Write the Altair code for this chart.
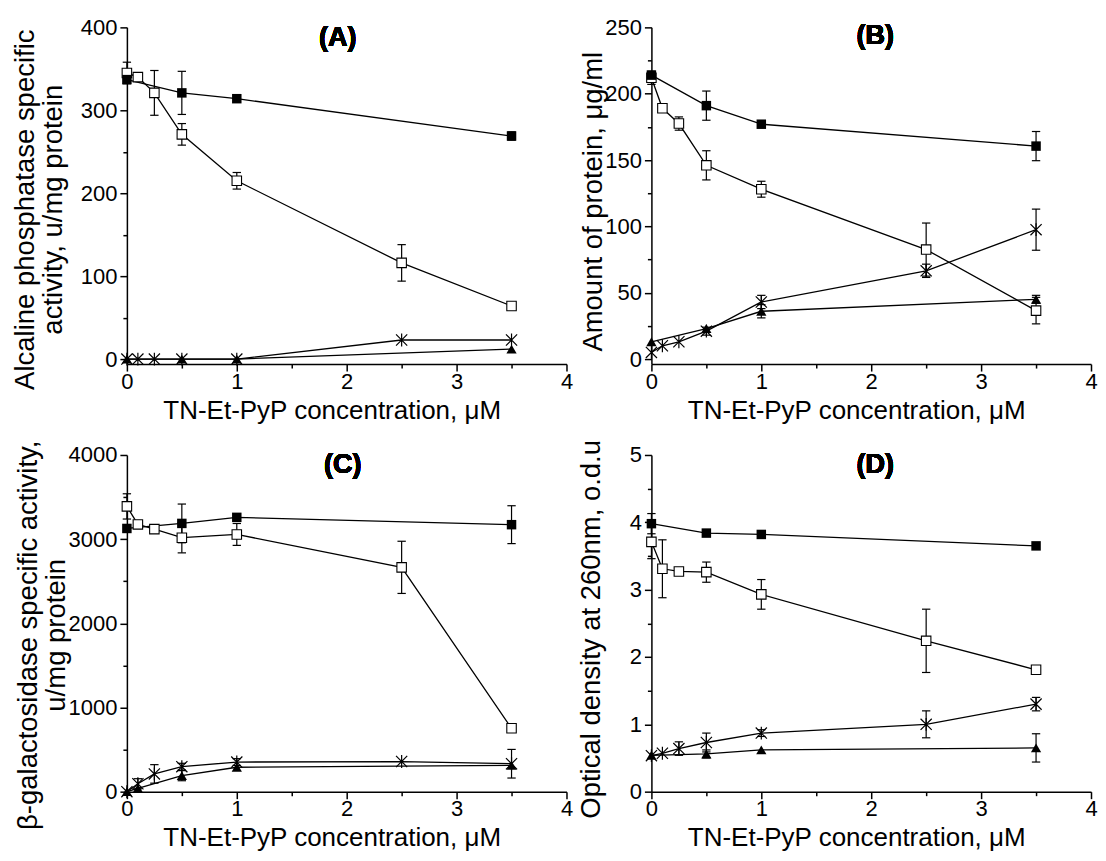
import altair as alt
import pandas as pd

FONT = "Liberation Sans"

x_all = [0, 0.1, 0.25, 0.5, 1, 2.5, 3.5]
x_sub = [0, 0.5, 1, 3.5]
x_sub_c = [0, 0.1, 0.5, 1, 3.5]

# (A) Alkaline phosphatase
a_filled = [337, 321, 314, 269]
a_filled_err = [0, 26, 0, 5]
a_open = [345, 340, 321, 271, 215, 116, 64]
a_open_err = [13, 0, 27, 13, 10, 22, 0]
a_star = [0, 0, 0, 0, 0, 23, 23]
a_star_err = [0, 0, 0, 0, 0, 0, 0]
a_tri = [0, 0, 0, 12]
a_tri_err = [0, 0, 0, 0]

# (B) Amount of protein
b_filled = [214, 191, 177, 160.5]
b_filled_err = [0, 11, 0, 11]
b_open = [212, 189, 177.5, 146, 128, 82.5, 36.5]
b_open_err = [5, 0, 5, 11, 6, 20, 10]
b_star = [5, 10, 13, 21, 43, 66.5, 97.5]
b_star_err = [0, 0, 0, 3, 5, 5, 15.5]
b_tri = [13, 23, 36, 45]
b_tri_err = [0, 0, 5, 3]

# (C) beta-galactosidase
c_filled = [3127, 3187, 3259, 3172]
c_filled_err = [0, 230, 0, 225]
c_open = [3389, 3175, 3119, 3017, 3056, 2665, 753]
c_open_err = [150, 0, 0, 180, 130, 310, 0]
c_star = [0, 94, 211, 297, 352, 358, 332]
c_star_err = [0, 60, 110, 40, 40, 0, 170]
c_tri = [0, 40, 190, 290, 312]
c_tri_err = [0, 0, 60, 0, 0]

# (D) Optical density
d_filled = [3.98, 3.84, 3.82, 3.65]
d_filled_err = [0.15, 0, 0, 0]
d_open = [3.71, 3.31, 3.27, 3.26, 2.93, 2.24, 1.81]
d_open_err = [0.25, 0.43, 0.05, 0.15, 0.22, 0.47, 0]
d_star = [0.535, 0.57, 0.64, 0.73, 0.87, 1.0, 1.30]
d_star_err = [0, 0, 0.1, 0.14, 0.05, 0.2, 0.1]
d_tri = [0.54, 0.56, 0.62, 0.65]
d_tri_err = [0, 0.06, 0, 0.21]

x_title = "TN-Et-PyP concentration, \u03bcM"
x_major = [0, 1, 2, 3, 4]
x_minor = [0.5, 1.5, 2.5, 3.5]

W, H = 440, 337
STAR = "M-1,-1L1,1M-1,1L1,-1M0,-1.15L0,1.15"
CAP = "M-1,0L1,0"


def frame(xs, ys, errs, name):
    return pd.DataFrame({
        "x": xs, "y": ys, "e": errs, "s": name,
        "lo": [v - e for v, e in zip(ys, errs)],
        "hi": [v + e for v, e in zip(ys, errs)],
    })


def panel(series, domain, y_major, y_minor, ytitle, tx, ty, label, lx, ly):
    df = pd.concat([frame(*s) for s in series], ignore_index=True)
    err = df[df["e"] > 0]
    xs = alt.Scale(domain=[0, 4], nice=False, zero=False)
    ys = alt.Scale(domain=domain, nice=False, zero=False)
    xaxis = alt.Axis(
        values=x_major, format="d", tickSize=7, labelPadding=0,
        labelOverlap=False, labelFlush=False,
        title=x_title, titleX=205, titleY=46, titleBaseline="middle",
    )
    yaxis = alt.Axis(
        values=y_major, format="d", tickSize=7, labelPadding=3, labelOverlap=False,
        labelFlush=False,
        title=ytitle, titleX=tx, titleY=ty, titleAngle=-90, titleBaseline="middle",
        titleLineHeight=28,
    )
    X = alt.X("x:Q", scale=xs, axis=xaxis)
    Y = alt.Y("y:Q", scale=ys, axis=yaxis)
    base = alt.Chart(df)
    lines = base.mark_line(color="black", strokeWidth=1.3).encode(x=X, y=Y, detail="s:N")
    bars = alt.Chart(err).mark_rule(color="black", strokeWidth=1.2).encode(
        x=X, y=alt.Y("lo:Q", scale=ys, axis=yaxis), y2="hi:Q")
    caps = alt.Chart(err).transform_fold(["lo", "hi"], as_=["k", "c"]).mark_point(
        shape=CAP, size=70, color="black", strokeWidth=1.2, filled=False, opacity=1
    ).encode(x=X, y=alt.Y("c:Q", scale=ys, axis=yaxis))
    filled_sq = base.transform_filter("datum.s == 'filled'").mark_point(
        shape="square", size=90, filled=True, color="black", opacity=1).encode(x=X, y=Y)
    open_sq = base.transform_filter("datum.s == 'open'").mark_point(
        shape="square", size=90, fill="white", stroke="black", strokeWidth=1.1, opacity=1,
        fillOpacity=1).encode(x=X, y=Y)
    star = base.transform_filter("datum.s == 'star'").mark_point(
        shape=STAR, size=125, filled=False, color="black", strokeWidth=1.2, opacity=1).encode(x=X, y=Y)
    tri = base.transform_filter("datum.s == 'tri'").mark_point(
        shape="triangle-up", size=105, filled=True, color="black", opacity=1).encode(x=X, y=Y)
    title = alt.Chart(df).mark_text(
        text=label, font=FONT, fontSize=27, fontWeight="bold", color="black",
        baseline="middle", align="center"
    ).encode(x=alt.value(lx), y=alt.value(ly))
    main = alt.layer(lines, bars, caps, star, tri, open_sq, filled_sq, title)
    minor = alt.Chart(df).mark_point(opacity=0).encode(
        x=alt.X("x:Q", scale=xs, axis=alt.Axis(
            values=x_minor, tickSize=4, labels=False, domain=False, title=None,
            orient="bottom", grid=False)),
        y=alt.Y("y:Q", scale=ys, axis=alt.Axis(
            values=y_minor, tickSize=4, labels=False, domain=False, title=None,
            orient="left", grid=False)),
    )
    return alt.layer(main, minor).resolve_scale(x="independent", y="independent").properties(
        width=W, height=H)


pA = panel(
    [(x_sub, a_filled, a_filled_err, "filled"), (x_all, a_open, a_open_err, "open"),
     (x_all, a_star, a_star_err, "star"), (x_sub, a_tri, a_tri_err, "tri")],
    [-6, 400], [0, 100, 200, 300, 400], [50, 150, 250, 350],
    ["Alcaline phosphatase specific", "activity, u/mg protein"],
    -101, 182, "(A)", 211, 11)
pB = panel(
    [(x_sub, b_filled, b_filled_err, "filled"), (x_all, b_open, b_open_err, "open"),
     (x_all, b_star, b_star_err, "star"), (x_sub, b_tri, b_tri_err, "tri")],
    [-3.8, 250], [0, 50, 100, 150, 200, 250], [25, 75, 125, 175, 225],
    "Amount of protein, \u03bcg/ml",
    -58, 174, "(B)", 224, 9)
pC = panel(
    [(x_sub, c_filled, c_filled_err, "filled"), (x_all, c_open, c_open_err, "open"),
     (x_all, c_star, c_star_err, "star"), (x_sub_c, c_tri, c_tri_err, "tri")],
    [0, 4000], [0, 1000, 2000, 3000, 4000], [500, 1500, 2500, 3500],
    ["\u03b2-galactosidase specific activity,", "u/mg protein"],
    -98, 180, "(C)", 216, 10)
pD = panel(
    [(x_sub, d_filled, d_filled_err, "filled"), (x_all, d_open, d_open_err, "open"),
     (x_all, d_star, d_star_err, "star"), (x_sub, d_tri, d_tri_err, "tri")],
    [0, 5], [0, 1, 2, 3, 4, 5], [0.5, 1.5, 2.5, 3.5, 4.5],
    "Optical density at 260nm, o.d.u",
    -60, 174, "(D)", 224, 10)

chart = alt.concat(pA, pB, pC, pD, columns=2, spacing={"row": 16, "column": 3}).properties(
    padding={"left": 3, "top": 8, "right": 0, "bottom": 0}
).configure_view(stroke=None).configure_axis(
    grid=False, domainColor="black", tickColor="black", domainWidth=1.5, tickWidth=1.5,
    labelColor="black", titleColor="black", labelFont=FONT, titleFont=FONT,
    labelFontSize=22, titleFontSize=27.5, titleFontWeight="normal",
).configure_axisX(titleFontSize=26)

chart.save("out.html", embed_options={"renderer": "svg", "actions": False})
